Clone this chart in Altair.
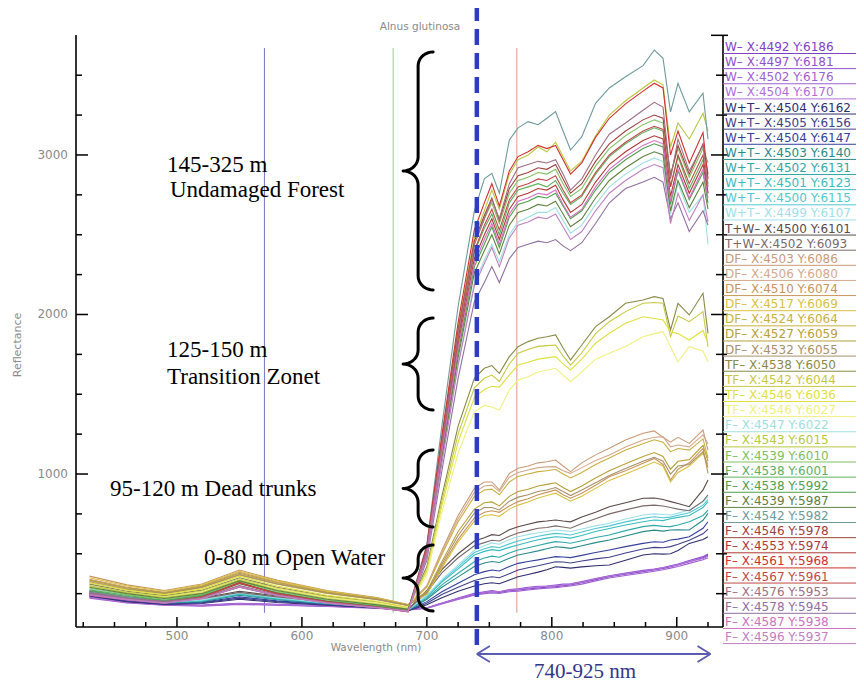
import altair as alt
import numpy as np
import pandas as pd

# ---------------- scales / layout ----------------
X_DOMAIN = [419.2, 937.0]
Y_DOMAIN = [41.0, 3752.0]
W, H = 647, 592

# ---------------- data ----------------
WL = [430, 460, 490, 520, 550, 580, 620, 660, 685, 700, 712, 725, 738,
      746, 752, 758, 766, 773, 781, 789, 796, 803, 809, 815, 824, 835,
      846, 859, 873, 882, 889, 895, 901, 910, 921, 925]

LABELS = [
    "W– X:4492 Y:6186", "W– X:4497 Y:6181", "W– X:4502 Y:6176", "W– X:4504 Y:6170",
    "W+T– X:4504 Y:6162", "W+T– X:4505 Y:6156", "W+T– X:4504 Y:6147", "W+T– X:4503 Y:6140",
    "W+T– X:4502 Y:6131", "W+T– X:4501 Y:6123", "W+T– X:4500 Y:6115", "W+T– X:4499 Y:6107",
    "T+W– X:4500 Y:6101", "T+W–X:4502 Y:6093",
    "DF– X:4503 Y:6086", "DF– X:4506 Y:6080", "DF– X:4510 Y:6074", "DF– X:4517 Y:6069",
    "DF– X:4524 Y:6064", "DF– X:4527 Y:6059", "DF– X:4532 Y:6055",
    "TF– X:4538 Y:6050", "TF– X:4542 Y:6044", "TF– X:4546 Y:6036", "TF– X:4546 Y:6027",
    "F– X:4547 Y:6022", "F– X:4543 Y:6015", "F– X:4539 Y:6010", "F– X:4538 Y:6001",
    "F– X:4538 Y:5992", "F– X:4539 Y:5987", "F– X:4542 Y:5982", "F– X:4546 Y:5978",
    "F– X:4553 Y:5974", "F– X:4561 Y:5968", "F– X:4567 Y:5961", "F– X:4576 Y:5953",
    "F– X:4578 Y:5945", "F– X:4587 Y:5938", "F– X:4596 Y:5937",
]

COLORS = [
    "#8040c8", "#9050d0", "#a060d0", "#b070d8",
    "#2e2e6e", "#40408a", "#34409c", "#2a8a8a",
    "#30a8a8", "#38bcc0", "#50c8d0", "#a0e0e8",
    "#5a4a4a", "#7a6a6a",
    "#c89a78", "#d4a88c", "#c8945c", "#d8c040",
    "#c8b040", "#b8a038", "#a8906a",
    "#8a8a48", "#c8c840", "#e0e040", "#f0f080",
    "#a0e0e0", "#b8c840", "#80c060", "#60b060",
    "#50a050", "#608040", "#6f9a9a", "#a04040",
    "#b03838", "#d03030", "#c04848", "#a07080",
    "#9070a0", "#d070c0", "#c080c0",
]

# water
W_6186 = [228, 196, 180, 175, 186, 180, 172, 160, 150, 160, 188, 218, 245,
          256, 262, 258, 268, 273, 280, 286, 290, 294, 300, 305, 318, 338, 356, 372, 388, 398, 408, 419, 430, 450, 475, 492]
W_6181 = [232, 200, 182, 178, 190, 183, 174, 162, 152, 162, 192, 222, 252,
          262, 270, 262, 276, 281, 290, 296, 298, 304, 310, 312, 326, 345, 362, 380, 396, 404, 414, 425, 436, 458, 482, 498]
W_6176 = [222, 192, 178, 172, 182, 177, 170, 158, 148, 158, 185, 214, 240,
          250, 255, 252, 262, 266, 273, 280, 284, 288, 293, 298, 310, 330, 348, 364, 380, 390, 400, 410, 420, 440, 462, 475]
W_6170 = [226, 195, 180, 176, 188, 181, 173, 161, 150, 160, 190, 220, 248,
          258, 265, 262, 272, 278, 284, 292, 296, 300, 304, 310, 322, 342, 360, 376, 392, 402, 412, 422, 432, 452, 470, 485]
# water + trunks
WT_6162 = [235, 200, 182, 188, 215, 195, 178, 160, 143, 180, 225, 265, 298,
           312, 318, 312, 335, 356, 370, 385, 400, 419, 415, 410, 418, 425, 430, 460, 492, 500, 498, 500, 520, 565, 590, 607]
WT_6156 = [240, 204, 185, 192, 222, 200, 180, 162, 144, 190, 245, 290, 333,
           348, 356, 350, 375, 398, 412, 425, 438, 450, 448, 442, 455, 468, 478, 505, 530, 540, 538, 545, 560, 585, 625, 655]
WT_6147 = [245, 208, 188, 196, 230, 205, 183, 164, 145, 200, 262, 315, 368,
           388, 398, 392, 420, 440, 452, 462, 472, 482, 480, 476, 490, 508, 524, 545, 565, 575, 572, 586, 592, 607, 660, 701]
WT_6140 = [250, 212, 192, 200, 240, 212, 186, 166, 146, 215, 290, 355, 420,
           442, 452, 445, 472, 492, 505, 518, 532, 544, 540, 534, 550, 570, 586, 612, 639, 648, 642, 649, 650, 649, 710, 753]
WT_6131 = [255, 216, 194, 204, 245, 216, 188, 168, 147, 222, 305, 378, 450,
           474, 485, 478, 505, 524, 538, 552, 565, 576, 572, 566, 582, 602, 618, 645, 670, 678, 672, 670, 680, 701, 740, 774]
WT_6123 = [258, 220, 196, 206, 250, 220, 190, 169, 148, 230, 322, 405, 492,
           515, 526, 520, 540, 555, 572, 588, 598, 607, 604, 598, 615, 640, 659, 680, 701, 712, 708, 720, 728, 740, 790, 827]
WT_6115 = [260, 222, 198, 208, 252, 222, 191, 170, 148, 235, 330, 418, 508,
           532, 545, 538, 562, 580, 596, 610, 620, 628, 624, 618, 636, 658, 675, 700, 722, 732, 726, 730, 742, 757, 805, 840]
WT_6107 = [262, 224, 200, 210, 255, 224, 192, 171, 149, 240, 338, 430, 522,
           550, 568, 560, 590, 607, 620, 632, 640, 649, 645, 640, 655, 675, 691, 718, 743, 750, 746, 743, 755, 774, 825, 858]
# trunks + water
TW_6101 = [265, 228, 205, 222, 265, 235, 202, 178, 152, 270, 400, 500, 580,
           600, 620, 615, 650, 670, 685, 700, 705, 712, 705, 700, 730, 760, 795, 820, 848, 850, 840, 827, 815, 795, 900, 962]
TW_6093 = [260, 225, 202, 218, 258, 230, 200, 176, 150, 260, 380, 475, 550,
           570, 585, 580, 610, 630, 645, 660, 665, 675, 668, 660, 690, 720, 750, 775, 800, 805, 800, 790, 780, 770, 830, 870]
# dead forest
DF_6086 = [340, 290, 258, 300, 385, 325, 262, 220, 180, 300, 520, 740, 910,
           950, 950, 900, 1004, 1036, 1050, 1070, 1077, 1088, 1050, 1015, 1070, 1120, 1161, 1213, 1255, 1270, 1230, 1200, 1230, 1192, 1276, 1150]
DF_6080 = [330, 282, 252, 292, 372, 315, 256, 216, 177, 295, 510, 720, 885,
           925, 930, 890, 980, 1010, 1025, 1040, 1045, 1046, 1020, 1004, 1040, 1085, 1119, 1170, 1213, 1230, 1234, 1170, 1182, 1170, 1245, 1190]
DF_6074 = [360, 305, 270, 310, 398, 335, 270, 225, 182, 250, 420, 590, 725,
           760, 770, 760, 800, 827, 845, 870, 885, 900, 870, 848, 880, 930, 983, 1020, 1067, 1098, 1060, 962, 1030, 1070, 1161, 1004]
DF_6069 = [350, 298, 265, 305, 390, 330, 266, 222, 180, 245, 410, 575, 705,
           740, 745, 735, 780, 805, 825, 850, 865, 880, 855, 830, 860, 910, 960, 1000, 1045, 1075, 1050, 950, 1010, 1050, 1130, 1060]
DF_6064 = [320, 275, 248, 288, 365, 310, 252, 212, 175, 290, 495, 700, 860,
           900, 905, 870, 950, 985, 1000, 1015, 1020, 1030, 1000, 975, 1010, 1060, 1100, 1150, 1190, 1215, 1200, 1140, 1160, 1150, 1220, 1100]
DF_6059 = [335, 286, 255, 296, 378, 320, 259, 218, 178, 265, 450, 640, 780,
           820, 825, 800, 860, 890, 905, 925, 935, 945, 915, 890, 925, 975, 1020, 1065, 1110, 1135, 1110, 1030, 1080, 1090, 1180, 1080]
DF_6055 = [325, 278, 250, 290, 368, 312, 254, 214, 176, 255, 435, 615, 755,
           790, 790, 775, 830, 855, 870, 890, 900, 915, 890, 865, 900, 945, 990, 1035, 1080, 1105, 1080, 1000, 1050, 1060, 1140, 1040]
# transition forest
TF_6050 = [310, 265, 238, 272, 350, 290, 235, 198, 162, 420, 860, 1300, 1600,
           1663, 1680, 1631, 1736, 1798, 1830, 1851, 1860, 1872, 1790, 1715, 1809, 1924, 1986, 2070, 2091, 2112, 2100, 1903, 2070, 1997, 2133, 1882]
TF_6044 = [300, 258, 232, 266, 342, 284, 230, 195, 160, 400, 830, 1250, 1540,
           1600, 1620, 1580, 1690, 1757, 1780, 1800, 1805, 1809, 1740, 1683, 1760, 1880, 1955, 2018, 2070, 2075, 2070, 1861, 1990, 1955, 2018, 1798]
TF_6036 = [320, 272, 244, 280, 360, 298, 240, 202, 165, 390, 800, 1200, 1480,
           1530, 1550, 1545, 1620, 1683, 1700, 1720, 1728, 1736, 1690, 1652, 1720, 1820, 1882, 1945, 1986, 1975, 1966, 1892, 1880, 1840, 1900, 1819]
TF_6027 = [295, 254, 228, 262, 336, 280, 226, 192, 158, 370, 760, 1130, 1390,
           1430, 1420, 1401, 1527, 1589, 1610, 1640, 1650, 1663, 1620, 1579, 1640, 1720, 1757, 1799, 1861, 1880, 1892, 1798, 1704, 1798, 1770, 1704]
# undamaged forest
F_6022 = [280, 240, 212, 240, 300, 250, 205, 175, 150, 480, 1080, 1690, 2200,
          2340, 2440, 2330, 2500, 2580, 2610, 2640, 2640, 2670, 2590, 2510, 2560, 2690, 2800, 2880, 2950, 2980, 2960, 2630, 2820, 2640, 2750, 2440]
F_6015 = [300, 255, 225, 255, 335, 275, 220, 185, 155, 540, 1220, 1920, 2480,
          2650, 2780, 2660, 2880, 2970, 3000, 3050, 3020, 3080, 2990, 2900, 2960, 3120, 3250, 3340, 3420, 3470, 3440, 3050, 3200, 3100, 3261, 3150]
F_6010 = [285, 245, 215, 245, 325, 265, 210, 178, 150, 530, 1200, 1880, 2440,
          2600, 2700, 2570, 2760, 2840, 2860, 2890, 2880, 2910, 2820, 2740, 2790, 2930, 3040, 3120, 3190, 3220, 3200, 2880, 3040, 2860, 3040, 2950]
F_6001 = [275, 238, 208, 240, 318, 258, 205, 172, 148, 520, 1170, 1840, 2390,
          2540, 2630, 2500, 2700, 2780, 2800, 2820, 2800, 2840, 2760, 2690, 2740, 2880, 2990, 3070, 3140, 3170, 3150, 2800, 2990, 2790, 2970, 2820]
F_5992 = [270, 232, 205, 236, 312, 254, 202, 170, 146, 500, 1120, 1760, 2300,
          2440, 2550, 2420, 2610, 2690, 2710, 2740, 2730, 2760, 2680, 2600, 2650, 2780, 2890, 2970, 3040, 3070, 3050, 2690, 2900, 2720, 2890, 2700]
F_5987 = [290, 250, 220, 250, 330, 270, 215, 180, 152, 490, 1100, 1730, 2260,
          2400, 2500, 2380, 2560, 2640, 2660, 2690, 2680, 2710, 2630, 2550, 2600, 2730, 2840, 2920, 2990, 3020, 3000, 2650, 2840, 2670, 2830, 2660]
F_5982 = [262, 228, 200, 228, 290, 240, 195, 165, 142, 560, 1300, 2050, 2650,
          2850, 2885, 2760, 3094, 3170, 3209, 3190, 3230, 3272, 3150, 3031, 3115, 3324, 3420, 3490, 3560, 3658, 3606, 3270, 3449, 3270, 3387, 3100]
F_5978 = [250, 220, 198, 230, 315, 252, 200, 168, 140, 540, 1210, 1900, 2460,
          2620, 2730, 2590, 2790, 2870, 2890, 2920, 2910, 2940, 2850, 2760, 2820, 2960, 3070, 3150, 3220, 3250, 3230, 2870, 3060, 2880, 3070, 2880]
F_5974 = [245, 215, 195, 228, 318, 250, 198, 165, 138, 510, 1150, 1810, 2350,
          2500, 2600, 2470, 2660, 2740, 2760, 2790, 2780, 2810, 2720, 2640, 2690, 2830, 2940, 3020, 3090, 3120, 3100, 2740, 2940, 2760, 2940, 2760]
F_5968 = [240, 212, 192, 226, 320, 248, 196, 163, 136, 550, 1240, 1950, 2530,
          2700, 2820, 2680, 2900, 2990, 3020, 3060, 3040, 3060, 2970, 2880, 2950, 3110, 3230, 3320, 3400, 3450, 3420, 3000, 3150, 2950, 3140, 2850]
F_5961 = [248, 218, 196, 229, 316, 251, 199, 166, 139, 525, 1180, 1850, 2400,
          2560, 2660, 2530, 2720, 2800, 2820, 2850, 2840, 2870, 2780, 2700, 2750, 2890, 3000, 3080, 3150, 3180, 3160, 2800, 3000, 2820, 3000, 2760]
F_5953 = [255, 222, 200, 226, 300, 245, 196, 166, 142, 530, 1190, 1880, 2440,
          2600, 2720, 2600, 2820, 2920, 2940, 2960, 2950, 2970, 2880, 2780, 2850, 3000, 3130, 3200, 3280, 3330, 3300, 2850, 3100, 2900, 3060, 2800]
F_5945 = [250, 218, 196, 220, 290, 238, 192, 163, 140, 460, 1020, 1600, 2080,
          2200, 2300, 2200, 2350, 2420, 2440, 2460, 2450, 2470, 2430, 2400, 2450, 2570, 2700, 2790, 2830, 2860, 2830, 2600, 2700, 2520, 2650, 2560]
F_5938 = [240, 210, 190, 218, 295, 240, 192, 162, 138, 505, 1140, 1790, 2320,
          2470, 2570, 2440, 2630, 2710, 2730, 2760, 2750, 2780, 2690, 2610, 2660, 2800, 2910, 2990, 3060, 3090, 3070, 2710, 2910, 2730, 2910, 2730]
F_5937 = [245, 214, 192, 220, 292, 238, 190, 162, 139, 480, 1070, 1680, 2180,
          2320, 2420, 2300, 2480, 2560, 2580, 2610, 2600, 2630, 2550, 2470, 2520, 2650, 2760, 2840, 2910, 2940, 2920, 2570, 2760, 2590, 2750, 2580]

VALUES = [W_6186, W_6181, W_6176, W_6170,
          WT_6162, WT_6156, WT_6147, WT_6140, WT_6131, WT_6123, WT_6115, WT_6107,
          TW_6101, TW_6093,
          DF_6086, DF_6080, DF_6074, DF_6069, DF_6064, DF_6059, DF_6055,
          TF_6050, TF_6044, TF_6036, TF_6027,
          F_6022, F_6015, F_6010, F_6001, F_5992, F_5987, F_5982, F_5978,
          F_5974, F_5968, F_5961, F_5953, F_5945, F_5938, F_5937]

MARKER_WL = [570, 673, 772]
MARKER_COLORS = ["#7474c4", "#8fd08f", "#d89a8a"]
DASH_WL = 740
RANGE_NM = [740, 927]

XT_MAJOR = [500, 600, 700, 800, 900]
XT_MINOR = [425, 450, 475, 525, 550, 575, 625, 650, 675, 725, 750, 775, 825, 850, 875, 925]
YT_MAJOR = [1000, 2000, 3000]
YT_MINOR = [250, 500, 750, 1250, 1500, 1750, 2250, 2500, 2750, 3250, 3500]

BRACES = [(3646, 2154), (1978, 1401), (1151, 668), (555, 141)]
BRACE_NM = 693

# ---------------- build ----------------
rows = []
for lab, vals in zip(LABELS, VALUES):
    assert len(vals) == len(WL), lab
    for wl, v in zip(WL, vals):
        rows.append({"label": lab, "wl": wl, "r": v})
df = pd.DataFrame(rows)

xs = alt.Scale(domain=X_DOMAIN, nice=False, zero=False)
ys = alt.Scale(domain=Y_DOMAIN, nice=False, zero=False)
cs = alt.Scale(domain=LABELS, range=COLORS)
GRAY = "#8a8a8a"

PXNM = W / (X_DOMAIN[1] - X_DOMAIN[0])
PXR = H / (Y_DOMAIN[1] - Y_DOMAIN[0])


def px_to_r(py):
    return Y_DOMAIN[1] - py / PXR


def px_to_nm(px):
    return X_DOMAIN[0] + px / PXNM


def X(field):
    return alt.X(field, scale=xs, axis=None)


def Y(field):
    return alt.Y(field, scale=ys, axis=None)


layers = []

lines = alt.Chart(df).mark_line(strokeWidth=1.1).encode(
    x=X("wl:Q"), y=Y("r:Q"),
    color=alt.Color("label:N", scale=cs, legend=None),
    order=alt.Order("wl:Q"),
)

# band marker lines
for wl, c in zip(MARKER_WL, MARKER_COLORS):
    layers.append(
        alt.Chart(pd.DataFrame({"wl": [wl], "r": [3670], "r2": [130]}))
        .mark_rule(color=c, strokeWidth=1)
        .encode(x=X("wl:Q"), y=Y("r:Q"), y2="r2:Q")
    )
layers.append(lines)

# dashed 740 nm line
layers.append(
    alt.Chart(pd.DataFrame({"wl": [DASH_WL]}))
    .mark_rule(color="#2e3cc4", strokeWidth=4.5, strokeDash=[16, 8])
    .encode(x=X("wl:Q"), y=alt.value(-30), y2=alt.value(H + 25))
)

# axis frame lines
layers.append(
    alt.Chart(pd.DataFrame({"r": [Y_DOMAIN[0]], "r2": [Y_DOMAIN[1]]}))
    .mark_rule(color="black", strokeWidth=1.6)
    .encode(x=alt.value(0), y=Y("r:Q"), y2="r2:Q")
)
layers.append(
    alt.Chart(pd.DataFrame({"r": [Y_DOMAIN[0]], "r2": [Y_DOMAIN[1]]}))
    .mark_rule(color="black", strokeWidth=1.6)
    .encode(x=alt.value(W), y=Y("r:Q"), y2="r2:Q")
)
layers.append(
    alt.Chart(pd.DataFrame({"wl": [X_DOMAIN[0]], "wl2": [X_DOMAIN[1]]}))
    .mark_rule(color="black", strokeWidth=1.6)
    .encode(y=alt.value(H), x=X("wl:Q"), x2="wl2:Q")
)


# ticks (pointing inward)
def xticks(vals, length):
    return alt.Chart(pd.DataFrame({"wl": vals})).mark_rule(color="black", strokeWidth=1.5).encode(
        x=X("wl:Q"), y=alt.value(H), y2=alt.value(H - length))


def yticks(vals, x_a, x_b):
    return alt.Chart(pd.DataFrame({"r": vals})).mark_rule(color="black", strokeWidth=1.5).encode(
        y=Y("r:Q"), x=alt.value(x_a), x2=alt.value(x_b))


layers += [xticks(XT_MAJOR, 10), xticks(XT_MINOR, 5),
           yticks(YT_MAJOR, 0, 12), yticks(YT_MINOR, 0, 6),
           yticks(YT_MAJOR + [3750], W - 12, W + 5), yticks(YT_MINOR, W - 7, W + 4)]

# tick labels
layers.append(
    alt.Chart(pd.DataFrame({"wl": XT_MAJOR})).mark_text(
        baseline="top", align="center", font="DejaVu Sans", fontSize=12, color=GRAY).encode(
        x=X("wl:Q"), y=alt.value(H + 4), text=alt.Text("wl:Q", format="d"))
)
layers.append(
    alt.Chart(pd.DataFrame({"r": YT_MAJOR})).mark_text(
        baseline="middle", align="right", font="DejaVu Sans", fontSize=12, color=GRAY).encode(
        y=Y("r:Q"), x=alt.value(-8), text=alt.Text("r:Q", format="d"))
)

# ENVI-like legend column
leg = pd.DataFrame({"label": LABELS, "idx": list(range(len(LABELS)))})
LEG_Y0, LEG_DY = 12.0, 15.13
leg_base = alt.Chart(leg).transform_calculate(
    ly=f"{Y_DOMAIN[1]} - ({LEG_Y0} + datum.idx * {LEG_DY}) / {PXR}",
    ul=f"{Y_DOMAIN[1]} - ({LEG_Y0} + 6.5 + datum.idx * {LEG_DY}) / {PXR}",
)
layers.append(
    leg_base.mark_text(align="left", baseline="middle", font="DejaVu Sans", fontSize=12).encode(
        x=alt.value(W + 2), y=Y("ly:Q"), text="label:N",
        color=alt.Color("label:N", scale=cs, legend=None))
)
layers.append(
    leg_base.mark_rule(strokeWidth=1).encode(
        x=alt.value(W), x2=alt.value(W + 145), y=Y("ul:Q"),
        color=alt.Color("label:N", scale=cs, legend=None))
)

# braces
brows = []
for bid, (rt, rb) in enumerate(BRACES):
    x0 = (BRACE_NM - X_DOMAIN[0]) * PXNM
    y0 = (Y_DOMAIN[1] - rt) * PXR
    y1 = (Y_DOMAIN[1] - rb) * PXR
    h = y1 - y0
    hw = 15.0
    R = min(14.0, h / 4.2)
    upper = []
    for t in np.linspace(0, np.pi / 2, 10):
        upper.append((hw * (1 - np.sin(t)), R * (1 - np.cos(t))))
    for t in np.linspace(0, np.pi / 2, 10):
        upper.append((-hw * (1 - np.cos(t)), h / 2 - R + R * np.sin(t)))
    lower = [(dx, h - dy) for dx, dy in reversed(upper[:-1])]
    for i, (dx, dy) in enumerate(upper + lower):
        brows.append({"b": bid, "i": i, "bx": px_to_nm(x0 + dx), "by": px_to_r(y0 + dy)})
layers.append(
    alt.Chart(pd.DataFrame(brows)).mark_line(color="black", strokeWidth=3, strokeCap="round",
                                             strokeJoin="round").encode(
        x=X("bx:Q"), y=Y("by:Q"), detail="b:N", order="i:Q")
)

# double-headed arrow under the axis
AY = 619
head_nm = 13 / PXNM
arr = pd.DataFrame({
    "xa": [RANGE_NM[0], RANGE_NM[0], RANGE_NM[0], RANGE_NM[1], RANGE_NM[1]],
    "xb": [RANGE_NM[1], RANGE_NM[0] + head_nm, RANGE_NM[0] + head_nm, RANGE_NM[1] - head_nm, RANGE_NM[1] - head_nm],
    "ya": [px_to_r(AY)] * 5,
    "yb": [px_to_r(AY), px_to_r(AY - 8), px_to_r(AY + 8), px_to_r(AY - 8), px_to_r(AY + 8)],
})
layers.append(
    alt.Chart(arr).mark_rule(color="#5b5bb0", strokeWidth=1.8).encode(
        x=X("xa:Q"), x2="xb:Q", y=Y("ya:Q"), y2="yb:Q")
)


def note(text, x, y, size=23, color="black", font="Liberation Serif", align="left",
         baseline="middle", angle=0):
    return alt.Chart(pd.DataFrame({"t": [text]})).mark_text(
        align=align, baseline=baseline, font=font, fontSize=size, color=color, angle=angle).encode(
        text="t:N", x=alt.value(x), y=alt.value(y))


layers += [
    note("145-325 m", 91, 130),
    note("Undamaged Forest", 94, 155),
    note("125-150 m", 91, 315),
    note("Transition Zonet", 91, 342),
    note("95-120 m Dead trunks", 34, 454),
    note("0-80 m Open Water", 128, 523),
    note("740-925 nm", 509, 643, size=21, color="#34348a", align="center", baseline="alphabetic"),
    note("Alnus glutinosa", 344, -8, size=10.5, color=GRAY, font="DejaVu Sans", align="center"),
    note("Wavelength (nm)", 300, H + 21, size=10.5, color=GRAY, font="DejaVu Sans", align="center"),
    note("Reflectance", -58, 310, size=11, color=GRAY, font="DejaVu Sans", align="center", angle=270),
]

chart = alt.layer(*layers).properties(
    width=W, height=H,
    autosize=alt.AutoSizeParams(type="none"),
    padding={"left": 68, "top": 27, "right": 133, "bottom": 58},
).configure_view(stroke=None)

chart.save("out.html", embed_options={"renderer": "svg", "actions": False})
